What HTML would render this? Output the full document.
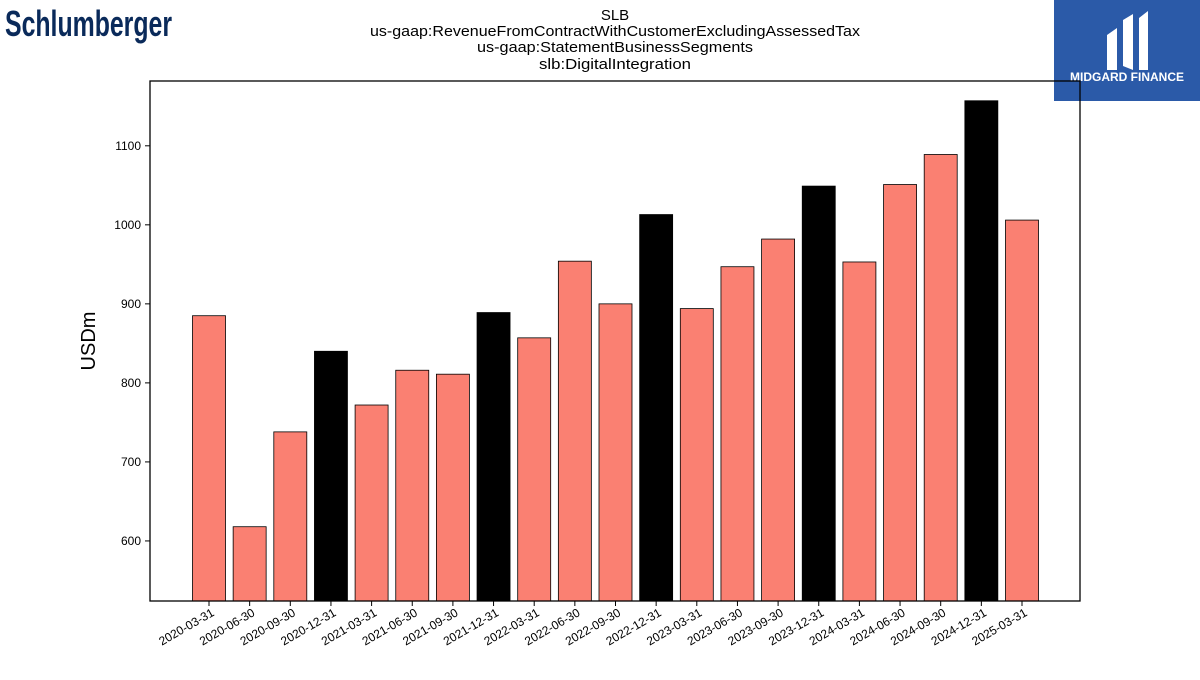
<!DOCTYPE html>
<html><head><meta charset="utf-8"><style>
body{margin:0;background:#fff;width:1200px;height:675px;overflow:hidden;font-family:"Liberation Sans",sans-serif}
</style></head><body>
<svg width="1200" height="675" xmlns="http://www.w3.org/2000/svg">
<text x="5" y="36" font-family="Liberation Sans Narrow, Liberation Sans, sans-serif" font-weight="bold" font-size="36" fill="#0a2a5a" textLength="167" lengthAdjust="spacingAndGlyphs">Schlumberger</text>
<g>
<rect x="1054" y="0" width="146" height="101" fill="#2b5aa8"/>
<path d="M1107 35 L1117 28 L1117 70 L1107 70 Z M1123 20 L1133 14 L1133 70 L1123 66 Z M1139 18 L1148 11 L1148 70 L1139 70 Z" fill="#fff"/>
<text x="1127" y="81" text-anchor="middle" font-weight="bold" font-size="12" fill="#fff">MIDGARD FINANCE</text>
</g>
<g font-size="15" text-anchor="middle" fill="#000">
<text x="615" y="20">SLB</text>
<text x="615" y="36" textLength="490" lengthAdjust="spacingAndGlyphs">us-gaap:RevenueFromContractWithCustomerExcludingAssessedTax</text>
<text x="615" y="52" textLength="276" lengthAdjust="spacingAndGlyphs">us-gaap:StatementBusinessSegments</text>
<text x="615" y="69" textLength="152" lengthAdjust="spacingAndGlyphs">slb:DigitalIntegration</text>
</g>
<text transform="translate(95,341) rotate(-90)" text-anchor="middle" font-size="20">USDm</text>
<g id="bars"></g><g id="axes"></g>
<rect x="150" y="81" width="930" height="520" fill="none" stroke="#000" stroke-width="1.3"/>
</svg>
<script>
const categories=["2020-03-31","2020-06-30","2020-09-30","2020-12-31","2021-03-31","2021-06-30","2021-09-30","2021-12-31","2022-03-31","2022-06-30","2022-09-30","2022-12-31","2023-03-31","2023-06-30","2023-09-30","2023-12-31","2024-03-31","2024-06-30","2024-09-30","2024-12-31","2025-03-31"];
const values=[885,618,738,840,772,816,811,889,857,954,900,1013,894,947,982,1049,953,1051,1089,1157,1006];
const yTicks=[600,700,800,900,1000,1100];
(function(){
const NS="http://www.w3.org/2000/svg";
const yMin=524,yMax=1182,plotTop=81,plotBot=601;
const y=v=>plotBot-(v-yMin)/(yMax-yMin)*(plotBot-plotTop);
const x=i=>209+i*(1022-209)/(categories.length-1);
const bars=document.getElementById('bars'),axes=document.getElementById('axes');
function mk(t,a,p){const e=document.createElementNS(NS,t);for(const k in a)e.setAttribute(k,a[k]);p.appendChild(e);return e;}
values.forEach((v,i)=>{
 const q4=categories[i].endsWith("12-31");
 const r=mk('rect',{x:x(i)-16.5,y:y(v),width:33,height:plotBot-y(v),fill:q4?'#000':'#fa8072',stroke:'#000','stroke-width':0.8},bars);
 
 
 const tk=mk('line',{x1:x(i),x2:x(i),y1:plotBot,y2:plotBot+5,stroke:'#000'},axes);
 
 
 const t=mk('text',{'font-size':12,'text-anchor':'end',transform:`translate(${x(i)+6},${plotBot+14}) rotate(-30)`},axes);
 t.textContent=categories[i];
 
 
});
yTicks.forEach(v=>{
 const tk=mk('line',{x1:145,x2:150,y1:y(v),y2:y(v),stroke:'#000'},axes);
 
 
 const t=mk('text',{x:141,y:y(v)+4,'font-size':12,'text-anchor':'end'},axes);
 t.textContent=v;
 
 
});
})();
</script>
</body></html>
